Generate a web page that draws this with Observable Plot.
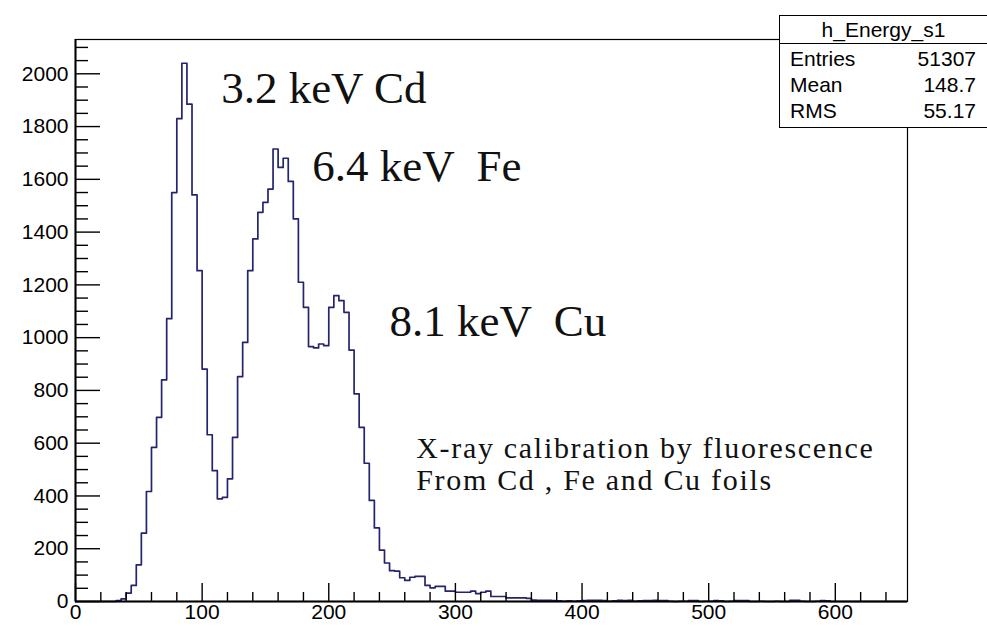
<!DOCTYPE html>
<html>
<head>
<meta charset="utf-8">
<script src="https://cdn.jsdelivr.net/npm/d3@7"></script>
<script src="https://cdn.jsdelivr.net/npm/@observablehq/plot@0.6"></script>
<style>
  html, body { margin: 0; padding: 0; background: #fff; overflow: hidden; }
  #wrap { position: relative; width: 987px; height: 626px; overflow: hidden; background: #fff; }
  svg text { white-space: pre; }
  #stats { position: absolute; left: 779px; top: 15px; width: 220px; height: 113px;
    border: 1.5px solid #000; background: #fff; font-family: "Liberation Sans", Arial, sans-serif;
    font-size: 21px; color: #000; box-sizing: border-box; }
  #stats .hdr { position: absolute; left: 0; top: 0; width: 207px; height: 27px; border-bottom: 1.5px solid #000;
    text-align: center; line-height: 27px; }
  #stats .row { position: absolute; left: 10px; width: 186px; height: 26px; line-height: 26px; }
  #stats .row .v { position: absolute; right: 0; top: 0; }
</style>
</head>
<body>
<div id="wrap"></div>
<script>
// Histogram h_Energy_s1 : bin width and counts per bin starting at 0
const binWidth = 4;
const counts = [
  0,0,0,0,0,0,0,0,
  3,10,32,61,139,259,417,584,698,840,
  1072,1550,1830,2040,1885,1541,1254,881,632,496,
  389,395,465,622,852,982,1254,1374,1475,1513,
  1563,1715,1645,1680,1592,1450,1210,1115,966,961,
  976,970,1115,1159,1140,1096,953,787,660,524,
  383,279,195,146,117,115,90,80,92,95,
  95,61,52,57,57,39,39,35,35,35,
  39,30,35,39,19,19,19,14,14,14,
  14,12,5,4,4,4,3,2,1,2,
  1,2,3,4,4,4,3,1,2,4,
  3,4,1,2,3,3,4,3,3,1,
  0,1,1,3,3,0,1,1,3,2,
  0,1,3,3,3,0,0,1,0,0,
  1,0,0,4,4,1,0,0,1,3,
  2,0,0,0,0,0,0,0,0,0,
  0,0,0,0,0,0
];

const xMajorTicks = [0, 100, 200, 300, 400, 500, 600];
const xMinorTicks = [20,40,60,80,120,140,160,180,220,240,260,280,320,340,360,380,420,440,460,480,520,540,560,580,620,640];
const yMajorTicks = [0, 200, 400, 600, 800, 1000, 1200, 1400, 1600, 1800, 2000];
const yMinorTicks = [50,100,150,250,300,350,450,500,550,650,700,750,850,900,950,1050,1100,1150,1250,1300,1350,1450,1500,1550,1650,1700,1750,1850,1900,1950,2050,2100];

const peakLabels = ["3.2 keV Cd", "6.4 keV  Fe", "8.1 keV  Cu"];
const peakLabelX = [115, 187, 248];
const peakLabelY = [1945, 1649, 1062];

const noteLines = ["X-ray calibration by fluorescence", "From Cd , Fe and Cu foils"];
const noteX = [269, 269];
const noteY = [580, 458];

const statsTitle = "h_Energy_s1";
const statsNames = ["Entries", "Mean", "RMS"];
const statsValues = ["51307", "148.7", "55.17"];

const xDomain = [0, 657];
const yDomain = [0, 2130];

// layout of the plot frame
const W = 987, H = 626, mL = 75, mR = 80, mT = 39, mB = 25;
const frameW = W - mL - mR, frameH = H - mT - mB;
// tick lengths in pixels, converted to data units along the other axis
const xPerPx = (xDomain[1] - xDomain[0]) / frameW;
const yPerPx = (yDomain[1] - yDomain[0]) / frameH;
const yMajorLen = 25 * xPerPx, yMinorLen = 13 * xPerPx;
const xMajorLen = 18 * yPerPx, xMinorLen = 9 * yPerPx;

// build step outline from bins
const steps = counts.map((c, i) => ({x: i * binWidth, y: c}));
steps.push({x: counts.length * binWidth, y: counts[counts.length - 1]});

const peaks = peakLabels.map((t, i) => ({t, x: peakLabelX[i], y: peakLabelY[i]}));
const notes = noteLines.map((t, i) => ({t, x: noteX[i], y: noteY[i]}));

const fmt = d => String(d);

const chart = Plot.plot({
  width: W,
  height: H,
  marginLeft: mL,
  marginRight: mR,
  marginTop: mT,
  marginBottom: mB,
  x: {domain: xDomain},
  y: {domain: yDomain},
  style: {background: "#fff", fontFamily: "'Liberation Sans', Arial, sans-serif", fontSize: "21px", color: "#000", overflow: "visible"},
  marks: [
    Plot.frame({stroke: "#000", strokeWidth: 1.2}),
    Plot.line(steps, {x: "x", y: "y", curve: "step-after", stroke: "#24246e", strokeWidth: 1.7}),
    // inward ROOT-style ticks
    Plot.ruleY(yMajorTicks, {y: d => d, x1: xDomain[0], x2: xDomain[0] + yMajorLen, stroke: "#000", strokeWidth: 1.4}),
    Plot.ruleY(yMinorTicks, {y: d => d, x1: xDomain[0], x2: xDomain[0] + yMinorLen, stroke: "#000", strokeWidth: 1.4}),
    Plot.ruleX(xMajorTicks, {x: d => d, y1: yDomain[0], y2: yDomain[0] + xMajorLen, stroke: "#000", strokeWidth: 1.4}),
    Plot.ruleX(xMinorTicks, {x: d => d, y1: yDomain[0], y2: yDomain[0] + xMinorLen, stroke: "#000", strokeWidth: 1.4}),
    Plot.ruleX([xDomain[0]], {stroke: "#000", strokeWidth: 2}),
    Plot.ruleY([yDomain[0]], {stroke: "#000", strokeWidth: 2}),
    Plot.axisY(yMajorTicks, {tickSize: 0, tickPadding: 7, tickFormat: fmt, fontSize: 21, label: null}),
    Plot.axisX(xMajorTicks, {tickSize: 0, tickPadding: 3, tickFormat: fmt, fontSize: 21, label: null}),
    Plot.text(peaks, {x: "x", y: "y", text: "t", textAnchor: "start", lineAnchor: "middle",
      fontFamily: "'Liberation Serif', 'Times New Roman', serif", fontSize: 45, fill: "#111"}),
    Plot.text(notes, {x: "x", y: "y", text: "t", textAnchor: "start", lineAnchor: "middle",
      fontFamily: "'Liberation Serif', 'Times New Roman', serif", fontSize: 30, fill: "#111"})
  ]
});

const wrap = document.getElementById("wrap");
wrap.appendChild(chart);
chart.querySelectorAll("text").forEach(t => {
  if (t.textContent.startsWith("X-ray") || t.textContent.startsWith("From")) t.style.letterSpacing = "1.7px";
});

const box = document.createElement("div");
box.id = "stats";
const hdr = document.createElement("div");
hdr.className = "hdr";
hdr.textContent = statsTitle;
box.appendChild(hdr);
statsNames.forEach((n, i) => {
  const r = document.createElement("div");
  r.className = "row";
  r.style.top = (30 + i * 26) + "px";
  const a = document.createElement("span");
  a.textContent = n;
  const v = document.createElement("span");
  v.className = "v";
  v.textContent = statsValues[i];
  r.appendChild(a); r.appendChild(v);
  box.appendChild(r);
});
wrap.appendChild(box);
</script>
</body>
</html>
